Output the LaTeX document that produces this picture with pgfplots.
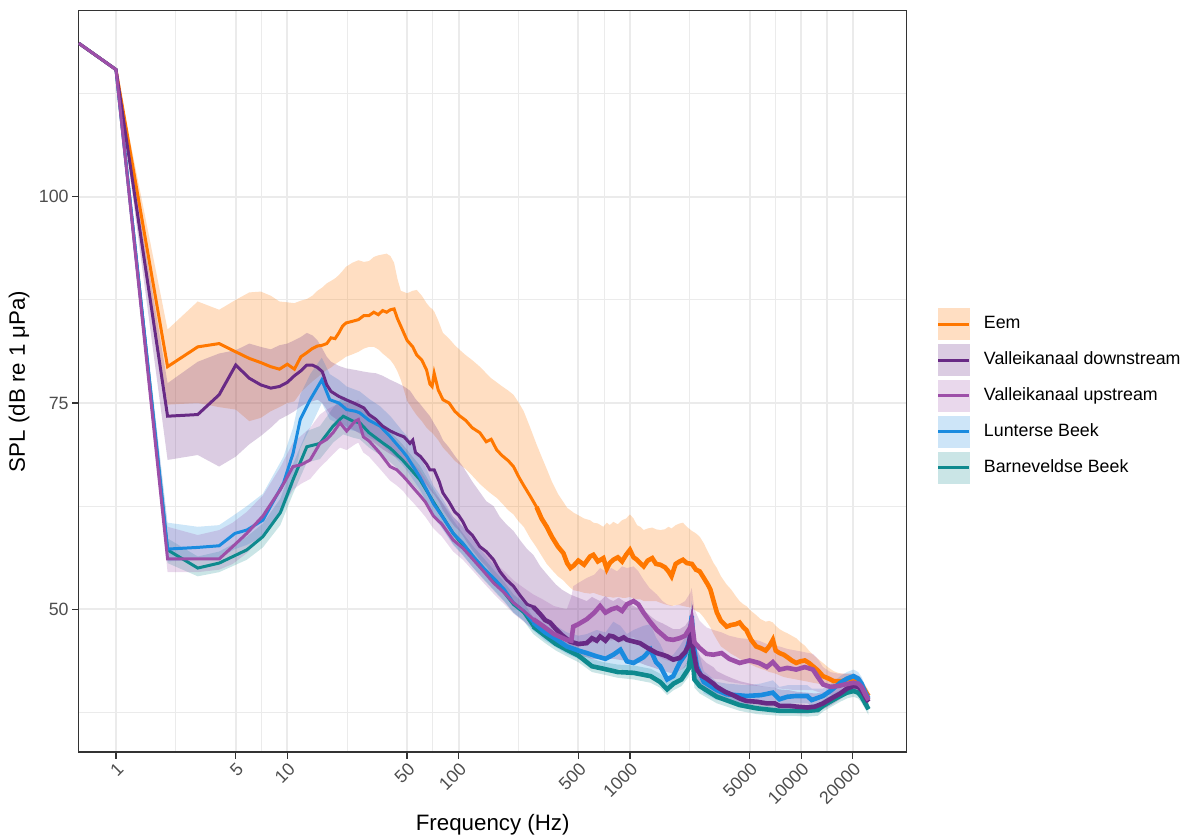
\documentclass[border=0pt]{standalone}
\usepackage{pgfplots}
\pgfplotsset{compat=1.18}
\usepackage{pgfplotstable}
\usepgfplotslibrary{fillbetween}
\usepackage{fontspec}
\setmainfont{Liberation Sans}
\definecolor{grey20}{HTML}{333333}
\definecolor{grey30}{HTML}{4D4D4D}
\definecolor{grey92}{HTML}{EBEBEB}
\definecolor{eemc}{HTML}{FF7700}
\definecolor{vdc}{HTML}{682A85}
\definecolor{vuc}{HTML}{9D4FA8}
\definecolor{lbc}{HTML}{1A8BDF}
\definecolor{bbc}{HTML}{0E8A8E}
\newcommand{\ticksz}{\fontsize{8.9}{10.5}\selectfont}
\newcommand{\titlesz}{\fontsize{11.15}{13}\selectfont}

\pgfplotstableread{
f m lo hi
0.6056 118.6 118.6 118.6
1 115.4 115.4 115.4
2 79.4 74.8 83.9
3 81.8 75.0 87.3
4 82.2 74.5 86.3
5 81.2 74.2 87.5
6 80.4 72.8 88.4
7 79.9 73.2 88.5
8 79.4 74.0 88.0
9 79.1 74.5 87.3
10 79.7 75.0 87.2
11 79.1 75.2 87.1
12 80.6 76.3 87.4
13 81.1 77.0 87.6
14 81.6 77.6 88.0
15 81.9 78.1 88.6
16 82.0 78.6 89.0
17 82.2 79.0 89.5
18 82.9 79.3 89.8
19 82.8 79.7 90.1
20 83.5 80.0 90.5
21 84.3 80.3 91.0
22 84.7 80.6 91.5
24 84.9 80.9 92.0
26 85.1 81.2 92.3
28 85.6 81.6 92.1
30 85.6 81.8 92.2
32 86.0 81.8 92.7
34 85.7 81.5 92.9
36 86.2 81.0 93.0
38 86.0 80.6 93.1
40 86.3 80.2 92.8
42 86.4 79.6 92.0
44 85.2 78.8 90.0
46 84.3 77.8 88.6
50 82.6 75.3 88.3
54 81.8 74.2 88.6
57 80.8 73.5 88.7
61 80.2 72.8 88.0
65 79.0 72.0 87.1
68 77.3 71.6 86.6
70 77.0 71.4 86.4
72 78.6 71.1 86.1
76 76.6 70.5 85.0
81 75.4 69.6 83.5
88 75.0 68.8 82.8
95 74.0 68.0 82.0
102 73.4 67.5 81.4
110 72.9 67.0 80.8
120 72.0 66.2 80.2
133 71.4 65.2 79.4
145 70.3 64.5 78.6
155 70.6 64.0 78.0
167 69.3 63.5 77.5
180 68.6 62.8 77.0
195 68.0 62.0 76.5
209 67.3 61.5 76.0
225 66.0 60.6 75.0
240 65.0 60.0 74.0
262 63.7 58.6 72.0
285 62.4 57.5 70.0
305 61.0 56.5 68.5
327 60.0 55.5 67.0
350 58.8 54.8 65.5
380 57.6 54.0 64.0
409 56.8 53.5 63.0
430 55.6 53.0 62.3
450 55.0 52.6 62.0
470 55.3 52.3 61.7
500 55.9 52.2 61.4
540 55.4 52.0 61.0
585 56.4 51.9 60.8
612 56.6 52.0 60.5
650 55.8 51.8 60.4
700 56.2 51.6 60.0
733 54.9 51.5 60.5
763 55.6 51.5 60.2
800 56.0 51.4 60.6
850 56.3 51.5 60.3
900 55.8 51.4 60.8
950 56.6 51.4 61.0
1000 57.2 51.5 61.5
1050 56.3 51.3 61.0
1100 56.0 51.2 60.2
1150 55.6 51.2 60.0
1203 55.2 51.0 59.6
1270 55.9 51.0 59.8
1350 56.2 51.0 59.9
1420 55.5 51.0 59.7
1504 55.4 50.8 59.6
1600 55.1 50.6 59.7
1680 54.6 50.5 60.0
1750 54.0 50.4 59.8
1850 55.5 50.5 60.2
1950 55.8 50.5 60.4
2040 56.0 50.4 60.5
2150 55.6 50.3 60.0
2300 55.5 50.2 59.5
2430 54.8 49.8 59.2
2555 54.6 49.6 58.8
2700 53.8 49.0 58.0
2850 53.0 48.3 57.0
2950 52.4 47.8 56.4
3080 51.0 47.0 55.6
3220 49.6 46.3 55.0
3400 48.6 45.5 54.0
3670 47.9 45.0 53.0
3900 48.1 44.6 52.4
4150 48.2 44.3 51.6
4367 48.4 44.0 51.0
4600 47.8 43.8 50.6
4780 47.5 43.6 50.4
5100 46.3 43.3 49.8
5460 45.5 43.0 49.3
5800 45.3 42.8 48.8
6200 45.0 42.6 48.5
6500 45.5 42.4 48.6
6830 46.3 42.3 48.4
7100 45.0 42.2 48.0
7470 44.7 42.0 47.6
7900 44.5 41.8 47.3
8300 44.2 41.7 47.1
8800 43.8 41.6 46.8
9350 43.5 41.5 46.5
9900 43.7 41.4 46.0
10500 43.8 41.3 45.6
11100 43.5 41.2 45.0
11700 43.1 41.1 44.5
12500 42.6 41.0 44.0
13400 41.9 40.8 43.5
14500 41.6 40.6 42.9
15500 41.3 40.5 42.5
16400 41.3 40.5 42.3
17400 41.3 40.6 42.2
18400 41.5 40.8 42.2
19500 41.6 41.0 42.2
20500 41.5 41.0 42.0
21500 41.2 40.7 41.8
22500 40.8 40.2 41.4
23500 40.2 39.6 40.9
24700 39.5 38.9 40.2
}\eem

\pgfplotstableread{
f m lo hi
0.6056 118.6 118.6 118.6
1 115.4 115.4 115.4
2 73.4 68.1 77.4
3 73.6 68.7 80.0
4 76.0 67.3 81.0
5 79.6 68.5 81.4
6 78.0 70.0 82.2
7 77.2 71.0 81.8
8 76.8 72.0 81.5
9 77.0 73.0 82.0
10 77.5 73.5 82.2
11 78.3 74.0 82.6
12 78.9 74.6 83.0
13 79.6 75.0 83.5
14 79.6 75.2 83.2
15 79.3 75.4 82.6
16 78.8 75.0 81.6
17 77.2 74.2 80.6
18 76.4 73.5 80.0
20 75.8 72.8 79.5
22 75.4 72.2 79.2
25 74.9 71.6 79.0
28 74.4 71.0 78.8
30 73.6 70.6 78.7
33 73.0 70.0 78.6
36 72.2 69.4 78.3
40 71.6 68.8 77.8
44 71.2 68.3 77.4
48 70.9 67.8 77.0
52 70.1 67.3 76.5
54 70.5 66.9 76.0
56 69.0 66.4 75.5
60 68.5 65.8 74.8
65 67.6 65.1 73.9
68 66.9 64.5 73.4
72 66.9 63.9 72.5
77 65.5 63.0 71.5
81 64.1 62.0 70.5
88 63.0 60.9 69.6
95 61.8 60.0 68.6
100 61.4 59.6 68.0
106 60.6 58.9 67.3
112 59.6 58.1 66.5
120 59.0 57.2 65.5
133 57.6 56.0 64.2
145 57.0 55.2 63.1
160 56.0 54.0 62.5
174 54.6 53.0 61.2
190 53.6 52.0 60.3
209 52.8 51.0 59.5
230 51.6 50.0 58.3
251 50.6 49.2 57.3
273 50.3 48.6 56.6
300 49.4 47.8 55.2
320 48.7 47.2 54.5
342 48.4 46.8 53.8
370 47.6 46.2 53.0
400 46.9 45.6 52.4
447 46.1 44.8 51.8
500 45.8 44.4 51.4
560 45.9 44.2 51.0
600 46.5 44.0 51.5
640 46.2 44.0 51.2
670 46.7 44.0 51.0
720 46.2 43.9 51.6
760 46.8 44.0 51.2
800 46.7 44.0 51.0
860 46.3 43.9 51.4
920 46.6 43.8 51.0
960 46.3 43.8 50.8
1050 46.1 43.6 50.4
1145 45.9 43.5 50.0
1250 45.4 43.2 49.6
1350 45.0 43.0 49.0
1435 44.7 42.8 48.6
1550 44.5 42.6 48.3
1650 44.3 42.4 48.0
1790 43.9 42.2 47.6
1950 44.1 42.5 47.6
2100 44.8 43.0 48.0
2200 45.6 43.8 48.6
2290 48.0 45.6 50.0
2340 45.0 43.5 48.0
2460 42.7 41.2 45.0
2600 42.0 40.6 44.2
2800 41.6 40.2 43.5
3070 41.0 39.6 43.0
3220 40.6 39.3 42.5
3600 40.0 38.9 42.0
4000 39.6 38.6 41.6
4367 39.2 38.3 41.3
4780 38.9 38.1 41.1
5500 38.8 38.0 40.8
6300 38.6 37.9 40.6
7000 38.6 37.8 40.5
7470 38.3 37.6 40.3
8500 38.3 37.5 40.2
9500 38.2 37.4 40.0
10870 38.1 37.4 39.9
12000 38.2 37.5 39.8
13400 38.6 37.9 39.9
15000 39.2 38.4 40.2
16900 39.8 39.1 40.6
18500 40.4 39.7 41.2
20200 40.7 40.0 41.5
21500 40.6 39.9 41.4
22500 40.2 39.5 41.0
23800 39.3 38.6 40.1
24700 38.8 38.1 39.6
}\vdn

\pgfplotstableread{
f m lo hi
0.6056 118.6 118.6 118.6
1 115.4 115.4 115.4
2 56.1 54.5 60.0
3 56.1 54.5 59.0
4 56.1 54.8 59.6
4.8 57.6 55.5 60.5
5.8 59.2 56.8 61.8
7.2 61.3 58.8 63.8
9.1 64.5 62.0 67.2
10.8 67.3 64.5 70.2
12 67.5 65.2 71.0
13.6 68.1 65.8 72.0
15.5 70.1 67.2 73.6
17 70.6 68.0 74.2
18.5 71.4 68.8 74.6
20.3 72.6 69.6 75.0
22.2 71.6 69.3 75.0
24.9 72.8 70.0 75.2
26 73.0 70.2 75.4
27.8 70.9 69.0 74.0
30 70.4 68.5 73.5
34.8 68.9 67.0 72.0
39.8 67.3 65.6 70.8
43.6 66.9 65.0 70.0
47.6 66.1 64.3 69.2
49.6 65.7 63.8 68.6
55 64.6 62.8 67.6
59.5 63.8 62.0 66.8
64 63.0 61.2 65.8
71.3 61.3 59.8 64.2
80 60.3 58.8 63.0
93 58.4 57.0 61.2
106 57.4 56.0 60.0
122 56.0 54.6 58.6
140 54.6 53.2 57.2
160 53.2 51.9 55.8
185 52.0 50.6 54.6
209 50.8 49.5 53.5
240 49.8 48.5 52.6
273 48.8 47.6 51.8
310 48.0 46.8 51.2
360 47.0 45.8 50.4
428 46.3 45.0 50.0
455 46.2 44.8 51.5
467 47.9 45.2 52.8
500 48.2 45.4 53.2
560 48.8 45.8 53.8
620 49.6 46.0 54.2
670 50.4 46.5 55.0
720 49.6 46.4 54.6
780 50.0 46.2 55.0
840 50.2 46.4 54.6
900 49.8 46.0 55.2
960 50.6 46.5 55.0
1050 51.0 46.6 55.2
1120 50.6 46.2 54.6
1200 49.6 45.8 53.6
1300 48.6 45.0 52.6
1435 47.5 44.4 51.8
1550 46.9 44.0 51.0
1650 46.4 43.8 50.6
1790 46.3 43.6 50.4
1950 46.5 43.8 50.6
2100 46.8 44.2 51.0
2250 47.8 45.0 52.0
2295 48.6 45.4 52.6
2380 46.0 43.5 50.0
2555 45.3 42.6 48.6
2800 44.6 41.8 47.8
3070 44.5 41.6 47.5
3430 44.7 41.5 47.2
3800 44.0 41.2 46.8
4367 43.5 41.0 46.5
5000 43.8 40.8 46.4
5670 43.5 40.7 46.2
6300 43.0 40.6 45.8
6830 43.6 40.5 45.6
7470 42.7 40.4 45.5
8300 42.9 40.3 45.2
9350 42.7 40.2 45.0
10500 43.0 40.2 44.8
11700 42.7 40.2 44.6
12500 41.8 40.0 44.0
13400 40.9 39.8 43.0
14800 40.6 39.6 42.4
16400 40.7 39.7 42.2
18000 40.9 39.9 42.2
20200 41.1 40.2 42.2
21500 41.0 40.1 42.0
22500 40.6 39.6 41.6
23800 39.6 38.8 40.6
24700 39.0 38.3 39.8
}\vup

\pgfplotstableread{
f m lo hi
0.6056 118.6 118.6 118.6
1 115.4 115.4 115.4
2 57.3 55.8 60.5
3 57.5 56.0 60.0
4 57.7 56.2 60.2
4.95 59.2 57.3 61.5
5.8 59.6 57.8 62.5
7.2 60.8 58.8 64.0
9.5 65.3 62.0 68.5
10.8 68.9 65.0 72.0
11.9 73.0 69.5 76.0
13.6 75.4 72.0 78.5
15.9 77.8 75.0 80.5
17.7 75.4 73.0 78.5
20 75.0 72.5 77.8
22.2 74.2 71.8 77.0
25 74.0 71.6 76.6
26.5 73.8 71.4 76.4
30 72.9 70.8 75.5
34.8 72.2 70.2 74.6
40 70.9 69.0 73.4
47 69.2 67.5 71.6
50 68.5 66.8 71.0
59.5 66.0 64.5 68.4
65 64.5 63.0 67.0
71.3 62.8 61.2 65.0
80 61.3 59.8 63.5
93 59.2 57.8 61.2
106 58.0 56.5 60.0
122 56.4 55.0 58.3
140 55.0 53.7 56.8
160 53.8 52.4 55.4
185 52.4 51.0 54.0
209 50.8 49.6 52.4
240 49.8 48.6 51.4
273 48.4 47.4 50.0
320 47.2 46.2 48.8
370 46.4 45.4 48.0
428 45.5 44.6 47.2
500 45.0 44.0 46.8
560 44.7 43.7 47.0
640 44.3 43.2 47.5
720 44.0 42.8 47.2
800 44.5 42.6 48.5
880 45.1 42.8 48.0
960 43.7 42.4 47.0
1050 43.5 42.2 47.5
1200 44.2 42.0 48.0
1320 45.1 42.2 48.2
1420 43.6 41.6 46.6
1504 43.1 41.2 45.8
1650 41.5 40.4 44.0
1790 41.9 40.6 44.5
1950 43.5 41.6 45.5
2100 44.5 42.6 46.6
2240 46.5 44.8 49.0
2295 49.2 46.0 51.0
2360 45.5 43.2 48.0
2460 43.1 41.6 45.6
2700 41.2 39.8 42.5
3220 40.2 39.0 41.2
3670 39.7 38.9 41.0
4780 39.5 38.6 40.8
5800 39.6 38.6 41.0
6830 39.9 38.8 41.4
7470 39.1 38.4 40.6
8300 39.4 38.5 40.8
9350 39.5 38.6 40.8
10870 39.5 38.6 40.8
11500 39.0 38.3 40.4
13400 39.5 38.7 40.4
15000 40.2 39.3 41.0
16900 41.1 40.2 41.9
18500 41.6 40.8 42.4
20200 41.9 41.1 42.7
21500 41.6 40.8 42.4
22500 41.0 40.2 41.8
23800 39.8 39.0 40.6
24700 39.2 38.4 40.0
}\lbk

\pgfplotstableread{
f m lo hi
0.6056 118.6 118.6 118.6
1 115.4 115.4 115.4
2 57.2 55.6 58.6
3 55.0 54.0 56.4
4 55.6 54.5 57.0
5.8 57.2 56.0 58.8
7.2 58.8 57.5 60.4
9.1 61.7 60.2 63.4
10.8 65.7 64.0 67.6
13 69.7 67.8 71.6
15.5 70.1 68.2 72.2
18.5 72.2 70.2 74.4
21.2 73.4 71.2 75.8
24.2 72.8 70.8 75.0
26.5 72.6 70.6 74.8
30 71.4 69.6 73.6
36.4 70.1 68.4 72.2
40 69.5 67.8 71.5
47 68.1 66.5 70.0
59.5 65.7 64.2 67.4
71.3 63.0 61.6 64.6
93 59.2 57.9 60.8
106 57.8 56.6 59.2
122 56.2 55.0 57.6
140 54.8 53.6 56.2
160 53.5 52.3 54.8
185 52.0 50.9 53.3
209 50.6 49.6 51.8
240 49.6 48.6 50.8
273 47.9 47.0 49.0
320 46.8 45.9 47.8
370 45.8 45.0 46.8
428 45.1 44.3 46.0
500 44.4 43.6 45.4
600 43.1 42.4 44.0
700 42.8 42.1 43.6
850 42.4 41.7 43.3
1050 42.3 41.5 43.2
1320 41.9 41.1 42.8
1500 41.2 40.5 42.2
1650 40.3 39.6 41.3
1800 41.0 40.2 42.0
2000 41.5 40.7 42.6
2200 42.8 41.8 43.8
2295 45.6 44.0 46.6
2380 41.5 40.5 42.5
2555 40.7 39.8 41.6
3220 39.4 38.6 40.2
4367 38.4 37.7 39.1
5500 38.0 37.3 38.7
7470 37.7 37.1 38.4
9000 37.7 37.1 38.4
10870 37.7 37.0 38.4
12500 37.8 37.1 38.5
13400 38.3 37.6 39.0
15000 38.9 38.2 39.6
16900 39.5 38.8 40.2
18500 39.9 39.2 40.6
20200 40.1 39.4 40.8
21500 39.9 39.2 40.6
22500 39.4 38.7 40.1
23800 38.5 37.8 39.2
24700 37.9 37.2 38.6
}\bbk

\begin{document}
\begin{tikzpicture}
\begin{axis}[
  scale only axis, width=414pt, height=370.65pt,
  xmode=log, xmin=0.6056, xmax=41290, ymin=32.71, ymax=122.54,
  axis line style={color=grey20, line width=0.7pt},
  xtick={1,5,10,50,100,500,1000,5000,10000,20000},
  xticklabels={1,5,10,50,100,500,1000,5000,10000,20000},
  minor xtick={2.2361,7.0711,22.361,70.711,223.61,707.11,2236.1,7071.1,14142},
  ytick={50,75,100}, yticklabels={50,75,100},
  minor ytick={37.5,62.5,87.5,112.5},
  grid=both,
  major grid style={color=grey92, line width=1pt},
  minor grid style={color=grey92, line width=0.6pt},
  tick align=outside, major tick length=3.35pt, minor tick length=0pt,
  major tick style={color=grey20, line width=0.6pt},
  xtick pos=left, ytick pos=left,
  ticklabel style={font=\ticksz, text=grey30},
  xticklabel style={rotate=45, anchor=north east, inner sep=1pt},
  yticklabel style={inner sep=1.5pt},
  xlabel={Frequency (Hz)}, ylabel={SPL (dB re 1 μPa)},
  label style={font=\titlesz},
  xlabel style={at={(axis description cs:0.5,-0.0985)}, anchor=center},
  ylabel style={at={(axis description cs:-0.0721,0.5)}, anchor=center},
  legend style={at={(axis description cs:1.0362,0.5985)}, anchor=north west,
    draw=none, fill=none, inner sep=0pt, outer sep=0pt, font=\ticksz,
    row sep=2pt, nodes={inner sep=0pt},
    /tikz/every odd column/.append style={column sep=6.65pt}},
  legend cell align=left,
]
% ribbons (alphabetical group order)
\addplot[draw=none, name path=bbhi, forget plot] table[x=f,y=hi]{\bbk};
\addplot[draw=none, name path=bblo, forget plot] table[x=f,y=lo]{\bbk};
\addplot[fill=bbc, fill opacity=0.22, draw=none, forget plot] fill between[of=bbhi and bblo];
\addplot[draw=none, name path=eehi, forget plot] table[x=f,y=hi]{\eem};
\addplot[draw=none, name path=eelo, forget plot] table[x=f,y=lo]{\eem};
\addplot[fill=eemc, fill opacity=0.24, draw=none, forget plot] fill between[of=eehi and eelo];
\addplot[draw=none, name path=lbhi, forget plot] table[x=f,y=hi]{\lbk};
\addplot[draw=none, name path=lblo, forget plot] table[x=f,y=lo]{\lbk};
\addplot[fill=lbc, fill opacity=0.22, draw=none, forget plot] fill between[of=lbhi and lblo];
\addplot[draw=none, name path=vdhi, forget plot] table[x=f,y=hi]{\vdn};
\addplot[draw=none, name path=vdlo, forget plot] table[x=f,y=lo]{\vdn};
\addplot[fill=vdc, fill opacity=0.24, draw=none, forget plot] fill between[of=vdhi and vdlo];
\addplot[draw=none, name path=vuhi, forget plot] table[x=f,y=hi]{\vup};
\addplot[draw=none, name path=vulo, forget plot] table[x=f,y=lo]{\vup};
\addplot[fill=vuc, fill opacity=0.22, draw=none, forget plot] fill between[of=vuhi and vulo];
% lines
\addplot[bbc, line width=1.5pt, forget plot] table[x=f,y=m]{\bbk};
\addplot[bbc, line width=2.3pt, forget plot, restrict x to domain=5.6:11] table[x=f,y=m]{\bbk};
\addplot[eemc, line width=1.5pt, forget plot] table[x=f,y=m]{\eem};
\addplot[eemc, line width=2.3pt, forget plot, restrict x to domain=5.6:11] table[x=f,y=m]{\eem};
\addplot[lbc, line width=1.5pt, forget plot] table[x=f,y=m]{\lbk};
\addplot[lbc, line width=2.3pt, forget plot, restrict x to domain=5.6:11] table[x=f,y=m]{\lbk};
\addplot[vdc, line width=1.5pt, forget plot] table[x=f,y=m]{\vdn};
\addplot[vdc, line width=2.3pt, forget plot, restrict x to domain=5.6:11] table[x=f,y=m]{\vdn};
\addplot[vuc, line width=1.5pt, forget plot] table[x=f,y=m]{\vup};
\addplot[vuc, line width=2.3pt, forget plot, restrict x to domain=5.6:11] table[x=f,y=m]{\vup};
% legend
\addlegendimage{legend image code/.code={\fill[eemc!24] (0pt,-7.75pt) rectangle (15.5pt,7.75pt); \draw[eemc, line width=1.5pt] (0pt,0pt) -- (15.5pt,0pt);}}
\addlegendentry{Eem}
\addlegendimage{legend image code/.code={\fill[vdc!24] (0pt,-7.75pt) rectangle (15.5pt,7.75pt); \draw[vdc, line width=1.5pt] (0pt,0pt) -- (15.5pt,0pt);}}
\addlegendentry{Valleikanaal downstream}
\addlegendimage{legend image code/.code={\fill[vuc!22] (0pt,-7.75pt) rectangle (15.5pt,7.75pt); \draw[vuc, line width=1.5pt] (0pt,0pt) -- (15.5pt,0pt);}}
\addlegendentry{Valleikanaal upstream}
\addlegendimage{legend image code/.code={\fill[lbc!22] (0pt,-7.75pt) rectangle (15.5pt,7.75pt); \draw[lbc, line width=1.5pt] (0pt,0pt) -- (15.5pt,0pt);}}
\addlegendentry{Lunterse Beek}
\addlegendimage{legend image code/.code={\fill[bbc!22] (0pt,-7.75pt) rectangle (15.5pt,7.75pt); \draw[bbc, line width=1.5pt] (0pt,0pt) -- (15.5pt,0pt);}}
\addlegendentry{Barneveldse Beek}
\end{axis}
\pgfresetboundingbox
\path[use as bounding box] (-39.35pt,-43.5pt) rectangle (555.15pt,376pt);
\end{tikzpicture}
\end{document}
